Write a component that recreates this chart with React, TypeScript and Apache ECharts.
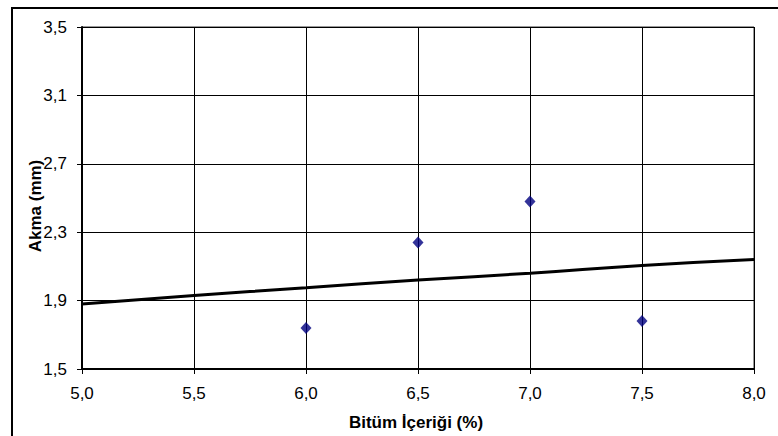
import React, { useEffect, useRef } from "react";
import * as echarts from "echarts";

// Measured points (Bitüm İçeriği %, Akma mm)
const bitumen = [6.0, 6.5, 7.0, 7.5];
const flow = [1.74, 2.24, 2.48, 1.78];

// Trend line
const trendX = [5.0, 5.5, 6.0, 6.5, 7.0, 7.5, 8.0];
const trendY = [1.88, 1.93, 1.975, 2.02, 2.06, 2.105, 2.14];

// Axis settings
const X_MIN = 5.0;
const X_MAX = 8.0;
const X_STEP = 0.5;
const Y_MIN = 1.5;
const Y_MAX = 3.5;
const Y_STEP = 0.4;

const xTitle = "Bitüm İçeriği (%)";
const yTitle = "Akma (mm)";

const fmt = (v: number) => v.toFixed(1).replace(".", ",");

export default function App() {
  const ref = useRef<HTMLDivElement>(null);

  useEffect(() => {
    if (!ref.current) return;
    const chart = echarts.init(ref.current, null, { renderer: "svg" });
    const font = "Liberation Sans, Arial, sans-serif";

    chart.setOption({
      animation: false,
      backgroundColor: "#ffffff",
      grid: {
        left: 82,
        top: 27,
        width: 672,
        height: 342,
        show: true,
        borderColor: "#333",
        borderWidth: 1,
        backgroundColor: "transparent",
      },
      xAxis: {
        type: "value",
        min: X_MIN,
        max: X_MAX,
        interval: X_STEP,
        axisLine: { show: true, lineStyle: { color: "#000", width: 2 } },
        axisTick: { show: true, inside: false, length: 5, lineStyle: { color: "#000", width: 1 } },
        axisLabel: {
          formatter: (v: number) => fmt(v),
          color: "#000",
          fontFamily: font,
          fontSize: 17,
          margin: 16,
        },
        splitLine: { show: true, lineStyle: { color: "#000", width: 1 } },
      },
      yAxis: {
        type: "value",
        min: 0,
        max: Y_MAX - Y_MIN,
        interval: Y_STEP,
        axisLine: { show: true, lineStyle: { color: "#000", width: 2 } },
        axisTick: { show: true, inside: false, length: 5, lineStyle: { color: "#000", width: 1 } },
        axisLabel: {
          formatter: (v: number) => fmt(v + Y_MIN),
          color: "#000",
          fontFamily: font,
          fontSize: 17,
          margin: 15,
        },
        splitLine: { show: true, lineStyle: { color: "#000", width: 1 } },
      },
      series: [
        {
          type: "line",
          data: trendX.map((x, i) => [x, trendY[i] - Y_MIN]),
          smooth: true,
          showSymbol: false,
          lineStyle: { color: "#000", width: 3 },
          z: 3,
        },
        {
          type: "scatter",
          data: bitumen.map((x, i) => [x, flow[i] - Y_MIN]),
          symbol: "diamond",
          symbolSize: [11, 12],
          itemStyle: { color: "#000080" },
          z: 4,
        },
      ],
      graphic: [
        {
          type: "rect",
          shape: { x: 12, y: 8, width: 820, height: 520 },
          style: { fill: "none", stroke: "#000", lineWidth: 2 },
          silent: true,
        },
        {
          type: "text",
          x: 416,
          y: 422,
          style: {
            text: xTitle,
            fill: "#000",
            font: `bold 17px ${font}`,
            textAlign: "center",
            textVerticalAlign: "middle",
          },
        },
        {
          type: "text",
          x: 35,
          y: 206,
          rotation: Math.PI / 2,
          style: {
            text: yTitle,
            fill: "#000",
            font: `bold 17px ${font}`,
            textAlign: "center",
            textVerticalAlign: "middle",
          },
        },
      ],
    });

    return () => chart.dispose();
  }, []);

  return (
    <div
      ref={ref}
      style={{ position: "absolute", left: 0, top: 0, width: 778, height: 436 }}
    />
  );
}
